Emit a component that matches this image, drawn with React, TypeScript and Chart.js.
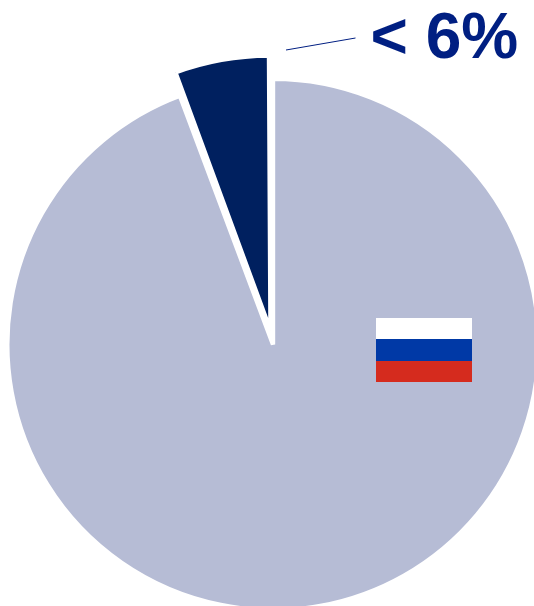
import React, { useEffect, useRef } from "react";
import { Chart, registerables } from "chart.js";

Chart.register(...registerables);

const categories = ["Russia", "Other"];
const values = [94.3, 5.7];
const sliceColors = ["#B6BCD5", "#00205F"];
const sliceOffsets = [0, 57];
const flagStripes = ["#FFFFFF", "#0039A6", "#D52B1E"];
const labelText = "< 6%";

export default function App() {
  const ref = useRef<HTMLCanvasElement>(null);
  useEffect(() => {
    document.body.style.margin = "0";
    const chart = new Chart(ref.current!, {
      type: "pie",
      data: {
        labels: categories,
        datasets: [
          {
            data: values,
            backgroundColor: sliceColors,
            borderColor: "#FFFFFF",
            borderWidth: 4.4,
            offset: sliceOffsets,
          },
        ],
      },
      options: {
        animation: false,
        responsive: false,
        radius: 265.7,
        layout: { padding: { left: 12, right: 0, top: 83, bottom: 0 } },
        plugins: { legend: { display: false }, tooltip: { enabled: false } },
      },
    });
    return () => chart.destroy();
  }, []);
  return (
    <div style={{ position: "relative", width: 534, height: 606, overflow: "hidden", background: "#fff" }}>
      <canvas ref={ref} width={534} height={606} style={{ position: "absolute", left: 0, top: 0, display: "block" }} />
      <svg width={534} height={606} style={{ position: "absolute", left: 0, top: 0 }}>
        <line x1={286} y1={50} x2={355.5} y2={38} stroke="#001F82" strokeWidth={1} />
      </svg>
      <div
        style={{
          position: "absolute",
          left: 370.5,
          top: 0,
          fontFamily: "'Liberation Sans', sans-serif",
          fontWeight: "bold",
          fontSize: 64,
          lineHeight: "72px",
          color: "#001F82",
          whiteSpace: "nowrap",
        }}
      >
        {labelText}
      </div>
      <div style={{ position: "absolute", left: 376, top: 318, width: 96, height: 64 }}>
        {flagStripes.map((c) => (
          <div key={c} style={{ height: 21.33, background: c }} />
        ))}
      </div>
    </div>
  );
}
